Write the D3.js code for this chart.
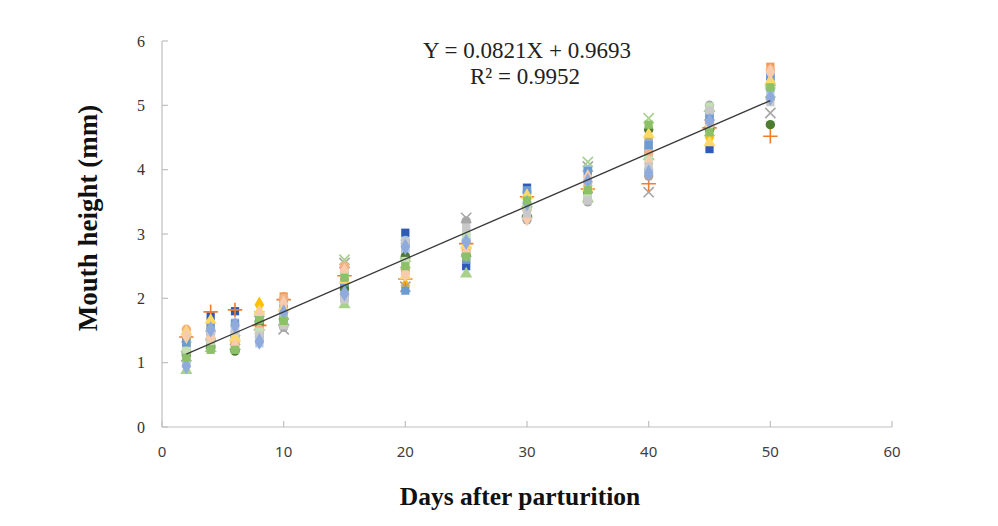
<!DOCTYPE html>
<html><head><meta charset="utf-8">
<script src="https://cdn.jsdelivr.net/npm/d3@7"></script>
<style>body{margin:0;background:#fff}svg{display:block}</style>
</head><body>
<script>
// ---- data ----
const days = [2, 4, 6, 8, 10, 15, 20, 25, 30, 35, 40, 45, 50];
const xTicks = [0, 10, 20, 30, 40, 50, 60];
const yTicks = [0, 1, 2, 3, 4, 5, 6];
const s0  = [1.30,1.72,1.80,1.60,1.70,2.20,3.02,2.50,3.72,3.60,4.30,4.32,5.45];
const s1  = [1.45,1.35,1.22,1.50,2.03,2.45,2.42,2.62,3.40,3.85,4.40,4.80,5.60];
const s2  = [1.15,1.28,1.40,1.45,1.55,2.05,2.85,3.20,3.22,3.50,3.90,5.00,5.10];
const s3  = [1.38,1.62,1.30,1.90,1.82,2.30,2.20,2.80,3.55,3.75,4.50,4.50,5.30];
const s4  = [1.22,1.55,1.62,1.35,1.95,2.00,2.78,2.95,3.62,3.95,4.42,4.85,5.50];
const s5  = [0.88,1.22,1.25,1.55,1.62,1.90,2.62,2.38,3.30,3.55,4.20,4.95,5.35];
const s6  = [1.05,1.50,1.55,1.30,1.88,2.10,2.70,3.05,3.45,3.90,4.35,4.90,5.15];
const s7  = [1.10,1.42,1.35,1.65,1.52,2.55,2.18,3.25,3.35,4.05,3.65,4.70,4.88];
const s8  = [1.25,1.30,1.28,1.72,1.75,2.60,2.55,2.72,3.50,4.12,4.80,4.60,5.20];
const s9  = [1.40,1.79,1.82,1.58,1.98,2.35,2.30,2.85,3.58,3.70,3.78,4.65,4.52];
const s10 = [1.12,1.25,1.18,1.62,1.68,2.15,2.65,2.68,3.28,3.65,4.62,4.62,4.70];
const s11 = [1.02,1.45,1.48,1.40,1.60,2.40,2.90,2.90,3.65,4.00,4.00,4.88,5.25];
const s12 = [1.52,1.38,1.32,1.52,2.00,2.50,2.45,2.75,3.38,3.80,4.25,4.72,5.55];
const s13 = [1.32,1.58,1.60,1.68,1.90,2.25,2.12,2.60,3.68,3.98,4.38,4.82,5.40];
const s14 = [1.18,1.33,1.45,1.48,1.72,2.38,2.58,3.00,3.42,3.62,4.15,4.98,5.32];
const s15 = [1.48,1.66,1.38,1.80,1.85,2.28,2.35,2.82,3.60,3.72,4.55,4.42,5.38];
const s16 = [1.42,1.40,1.26,1.75,1.92,2.42,2.38,2.70,3.25,3.88,4.10,4.68,5.52];
const s17 = [0.98,1.48,1.50,1.42,1.58,1.98,2.88,3.10,3.32,3.52,4.05,4.92,5.05];
const s18 = [0.95,1.52,1.58,1.33,1.78,2.08,2.80,2.88,3.48,3.82,3.95,4.75,5.12];
const s19 = [1.08,1.20,1.20,1.66,1.65,2.32,2.50,2.65,3.52,3.68,4.70,4.58,5.28];
const seriesValues = [s0,s1,s2,s3,s4,s5,s6,s7,s8,s9,s10,s11,s12,s13,s14,s15,s16,s17,s18,s19];
const seriesColors = ["#2F5BB5","#F39A55","#A8A8A8","#FFC000","#8FAADC","#A9D18E","#B4C7E7","#A6A6A6","#A9D18E","#ED7D31",
                      "#4E7D32","#9DC3E6","#F4B183","#6C9BD2","#C5E0B4","#FFD966","#F8CBAD","#C9C9C9","#8FAADC","#8CC168"];
const seriesShapes = ["square","square","circle","diamond","square","triangle","square","times","times","plus",
                      "circle","circle","circle","square","square","triangle","diamond","square","diamond","square"];
const slope = 0.0821, intercept = 0.9693;
const equationText = "Y = 0.0821X + 0.9693";
const r2Text = "R² = 0.9952";

// ---- chart ----
const W = 998, H = 526;
const svg = d3.select("body").append("svg").attr("width", W).attr("height", H);
const x = d3.scaleLinear().domain([0, 60]).range([162, 892]);
const y = d3.scaleLinear().domain([0, 6]).range([427, 41]);
const axisColor = "#BFBFBF";

// y axis
svg.append("line").attr("x1", x(0)).attr("x2", x(0)).attr("y1", y(0)).attr("y2", y(6))
  .attr("stroke", axisColor).attr("stroke-width", 1.2);
svg.selectAll(".ytick").data(yTicks).enter().append("line")
  .attr("x1", x(0)).attr("x2", x(0) + 6).attr("y1", d => y(d)).attr("y2", d => y(d))
  .attr("stroke", axisColor).attr("stroke-width", 1.2);
svg.selectAll(".ylab").data(yTicks).enter().append("text")
  .attr("x", 145).attr("y", d => y(d) + 5.5).attr("text-anchor", "end")
  .attr("font-family", "Liberation Serif, serif").attr("font-size", 16).attr("fill", "#333")
  .text(d => d);

// x axis
svg.append("line").attr("x1", x(0)).attr("x2", x(60)).attr("y1", y(0)).attr("y2", y(0))
  .attr("stroke", axisColor).attr("stroke-width", 1.2);
svg.selectAll(".xtick").data(xTicks).enter().append("line")
  .attr("x1", d => x(d)).attr("x2", d => x(d)).attr("y1", y(0)).attr("y2", y(0) - 6)
  .attr("stroke", axisColor).attr("stroke-width", 1.2);
svg.selectAll(".xlab").data(xTicks).enter().append("text")
  .attr("x", d => x(d)).attr("y", 457).attr("text-anchor", "middle")
  .attr("font-family", "Noto Sans, sans-serif").attr("font-size", 15).attr("fill", "#404040")
  .text(d => d);

// markers
const symType = {square: d3.symbolSquare, circle: d3.symbolCircle, diamond: d3.symbolDiamond,
  triangle: d3.symbolTriangle, times: d3.symbolTimes, plus: d3.symbolPlus};
const strokeShapes = new Set(["times", "plus"]);
seriesValues.forEach((vals, si) => {
  const shape = seriesShapes[si], col = seriesColors[si];
  const isStroke = strokeShapes.has(shape);
  const size = shape === "diamond" ? 80 : shape === "triangle" ? 65 : shape === "circle" ? 70 : isStroke ? 70 : 68;
  const gen = d3.symbol().type(symType[shape]).size(size);
  svg.append("g").selectAll("path").data(days.map((d, i) => [d, vals[i]])).enter().append("path")
    .attr("transform", d => `translate(${x(d[0])},${y(d[1])})`)
    .attr("d", gen)
    .attr("fill", isStroke ? "none" : col)
    .attr("stroke", isStroke ? col : "none")
    .attr("stroke-width", isStroke ? 1.6 : 0);
});

// regression line
const x0 = d3.min(days), x1 = d3.max(days);
svg.append("line")
  .attr("x1", x(x0)).attr("y1", y(slope * x0 + intercept))
  .attr("x2", x(x1)).attr("y2", y(slope * x1 + intercept))
  .attr("stroke", "#3A3A3A").attr("stroke-width", 1.3);

// equation
svg.append("text").attr("x", 527).attr("y", 58).attr("text-anchor", "middle")
  .attr("font-family", "Liberation Serif, serif").attr("font-size", 23).attr("fill", "#222")
  .text(equationText);
svg.append("text").attr("x", 525).attr("y", 84).attr("text-anchor", "middle")
  .attr("font-family", "Liberation Serif, serif").attr("font-size", 23).attr("fill", "#222")
  .text(r2Text);

// axis titles
svg.append("text").attr("transform", "translate(97,218) rotate(-90)").attr("text-anchor", "middle")
  .attr("font-family", "Liberation Serif, serif").attr("font-size", 27).attr("font-weight", "bold").attr("fill", "#111")
  .text("Mouth height (mm)");
svg.append("text").attr("x", 520).attr("y", 505).attr("text-anchor", "middle")
  .attr("font-family", "Liberation Serif, serif").attr("font-size", 25.5).attr("font-weight", "bold").attr("fill", "#111")
  .text("Days after parturition");
</script>
</body></html>
